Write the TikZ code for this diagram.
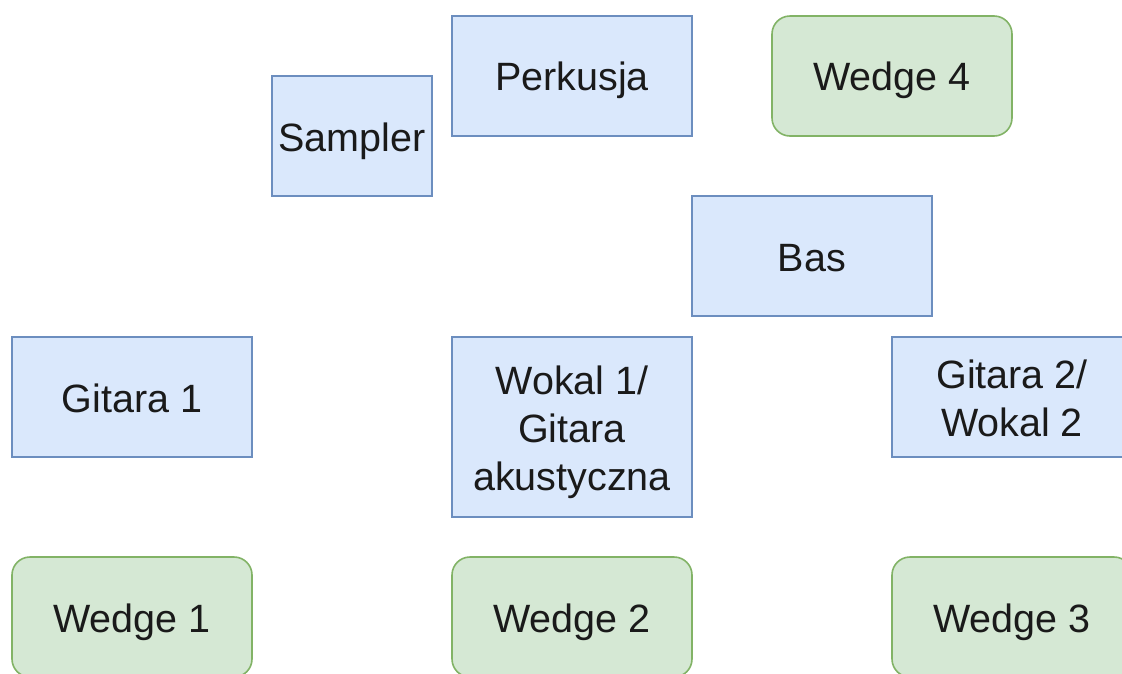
\documentclass[tikz,border=0pt]{standalone}
\usepackage{fontspec}
\setmainfont{Liberation Sans}
\definecolor{bfill}{HTML}{DAE8FC}
\definecolor{bline}{HTML}{6C8EBF}
\definecolor{gfill}{HTML}{D5E8D4}
\definecolor{gline}{HTML}{82B366}
\definecolor{txt}{HTML}{1A1A1A}
\begin{document}
\begin{tikzpicture}[x=1pt,y=-1pt,
  box/.style={draw=bline,fill=bfill,line width=1.6pt,inner sep=0pt,outer sep=0pt,
    text=txt,align=center,font=\fontsize{39.5}{48}\selectfont,
    minimum width=240pt,minimum height=120pt,text height=30pt,text depth=0pt},
  wedge/.style={box,draw=gline,fill=gfill,rounded corners=18pt}]
\useasboundingbox (0,0) rectangle (1122,673);
\clip (0,0) rectangle (1122,673);
\fill[white] (0,0) rectangle (1122,673);
\node[box,minimum width=160pt] (sampler) at (352,136) {Sampler};
\node[box,text height=28pt] (perk) at (572,76) {Perkusja};
\node[wedge,text height=28pt] (w4) at (892,76) {Wedge 4};
\node[box] (bas) at (812,256) {Bas};
\node[box] (g1) at (132,397) {Gitara 1};
\node[box,minimum height=180pt,text height=126pt] (wok) at (572,427) {Wokal 1/\\Gitara\\akustyczna};
\node[box,text height=78pt] (g2) at (1012,397) {Gitara 2/\\Wokal 2};
\node[wedge] (w1) at (132,617) {Wedge 1};
\node[wedge] (w2) at (572,617) {Wedge 2};
\node[wedge] (w3) at (1012,617) {Wedge 3};
\end{tikzpicture}
\end{document}
